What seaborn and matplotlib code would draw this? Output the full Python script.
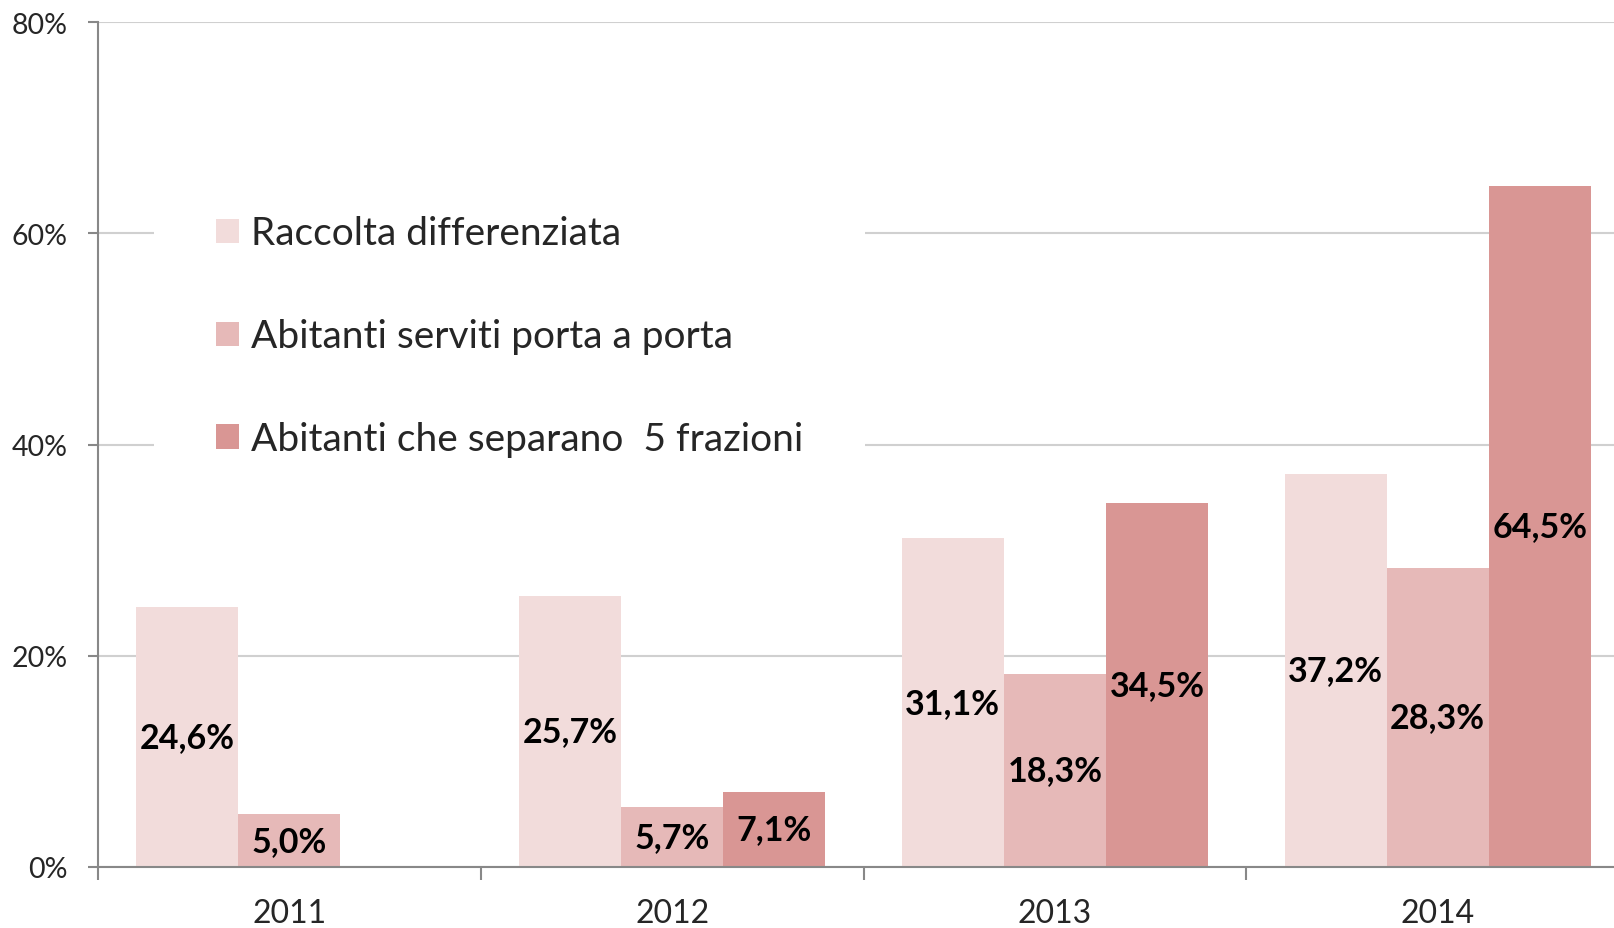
import matplotlib
matplotlib.use("Agg")
import matplotlib.pyplot as plt
import seaborn as sns
import pandas as pd
import numpy as np

# data
years = ['2011', '2012', '2013', '2014']
series = ['Raccolta differenziata', 'Abitanti serviti porta a porta',
          'Abitanti che separano  5 frazioni']
raccolta = [24.6, 25.7, 31.1, 37.2]
porta = [5.0, 5.7, 18.3, 28.3]
frazioni = [np.nan, 7.1, 34.5, 64.5]
colors = ['#F2DCDB', '#E6B9B8', '#D99694']

df = pd.DataFrame({
    'anno': years * 3,
    'serie': [series[0]] * 4 + [series[1]] * 4 + [series[2]] * 4,
    'valore': raccolta + porta + frazioni,
})

sns.set_theme(style="white")
plt.rcParams['font.family'] = ['Lato', 'DejaVu Sans']

fig = plt.figure(figsize=(16.15, 9.29), dpi=100)
ax = fig.add_axes([0.0607, 0.0657, 0.9480, 0.9095])

sns.barplot(data=df, x='anno', y='valore', hue='serie', hue_order=series,
            palette=colors, width=0.8, linewidth=0, saturation=1, ax=ax,
            order=years, errorbar=None)

# value labels in the middle of each bar
for cont in ax.containers:
    vals = cont.datavalues
    labels = ['' if np.isnan(v) else f"{v:.1f}%".replace('.', ',') for v in vals]
    ax.bar_label(cont, labels=labels, label_type='center',
                 fontsize=24.5, fontweight='bold', color='black')

ax.set_ylim(0, 80)
ax.set_xlim(-0.5, 3.5)
ax.set_yticks([0, 20, 40, 60, 80])
ax.set_yticklabels([f"{t}%" for t in [0, 20, 40, 60, 80]])
ax.yaxis.grid(True, color='#D0D0D0', linewidth=1.5)
ax.set_axisbelow(True)

ax.set_xticks(range(len(years)))
ax.set_xticklabels(years)
ax.set_xticks([-0.5, 0.5, 1.5, 2.5, 3.5], minor=True)
ax.tick_params(axis='x', which='major', length=0, pad=22, labelsize=23)
ax.tick_params(axis='x', which='minor', length=9, width=1.5, color='#888888',
               direction='out', bottom=True)
ax.tick_params(axis='y', length=7, width=1.5, color='#888888', direction='out',
               left=True, pad=15, labelsize=20.5)
ax.set_xlabel('')
ax.set_ylabel('')

for s in ['top', 'right']:
    ax.spines[s].set_visible(False)
for s in ['left', 'bottom']:
    ax.spines[s].set_color('#888888')
    ax.spines[s].set_linewidth(1.5)

leg = ax.legend(loc='upper left', bbox_to_anchor=(0.0954, 0.834),
                bbox_transform=fig.transFigure, frameon=True,
                facecolor='white', edgecolor='none', framealpha=1,
                fontsize=28, labelspacing=1.72, handlelength=0.58,
                handleheight=0.58, handletextpad=0.3, borderpad=1.6,
                borderaxespad=0)
leg.get_frame().set_boxstyle('square', pad=0)

fig.savefig('out.png', dpi=100)
